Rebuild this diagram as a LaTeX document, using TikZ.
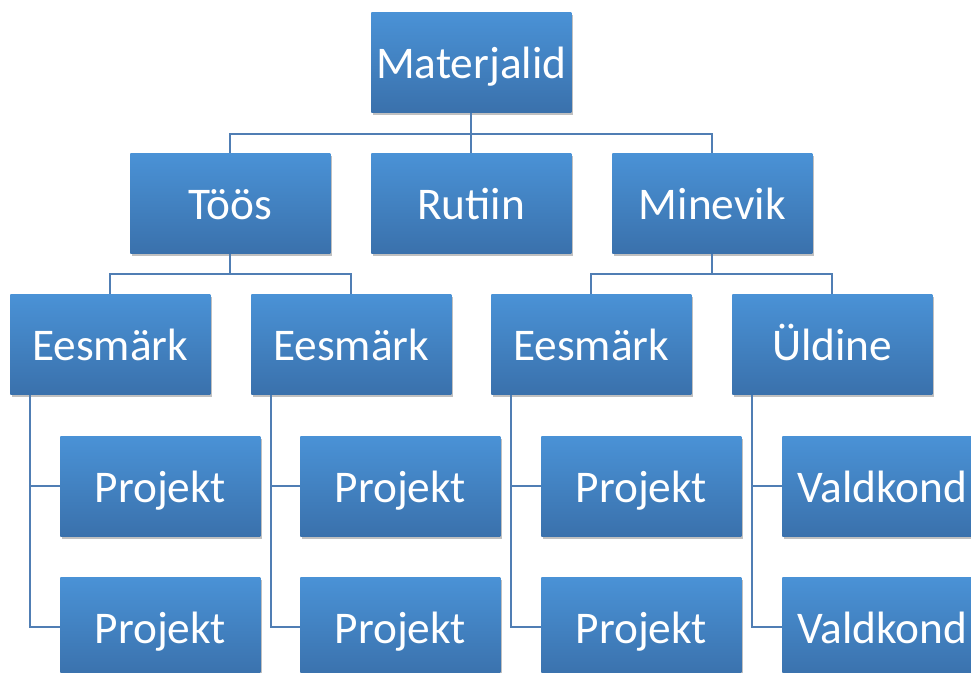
\documentclass[tikz,border=0pt]{standalone}
\usepackage{fontspec}
\setmainfont{Carlito}
\usetikzlibrary{shadows}
\definecolor{boxtop}{RGB}{74,146,214}
\definecolor{boxbot}{RGB}{58,113,172}
\definecolor{linec}{RGB}{80,126,180}
\tikzset{
  orgbox/.style={anchor=north west, minimum width=150pt, minimum height=75pt,
    inner sep=0pt, text height=25pt, text depth=0pt,
    top color=boxtop, bottom color=boxbot, draw=none,
    text=white, font=\fontsize{34}{40}\selectfont,
    drop shadow={shadow xshift=1.5pt, shadow yshift=-2pt, opacity=0.35, fill=black!70}},
  conn/.style={draw=linec, line width=1.5pt}
}
\begin{document}
\begin{tikzpicture}[x=0.75pt,y=-0.75pt]
\fill[white] (0,0) rectangle (971,672);
\clip (0,0) rectangle (971,672);
% nodes
\node[orgbox] (root) at (371,12) {Materjalid};
\node[orgbox] (toos) at (130,153) {Töös};
\node[orgbox] (rutiin) at (371,153) {Rutiin};
\node[orgbox] (minevik) at (612,153) {Minevik};
\node[orgbox] (e1) at (10,294) {Eesmärk};
\node[orgbox] (e2) at (251,294) {Eesmärk};
\node[orgbox] (e3) at (491,294) {Eesmärk};
\node[orgbox] (yl) at (732,294) {Üldine};
\node[orgbox] (p1a) at (60,436) {Projekt};
\node[orgbox] (p1b) at (60,577) {Projekt};
\node[orgbox] (p2a) at (300,436) {Projekt};
\node[orgbox] (p2b) at (300,577) {Projekt};
\node[orgbox] (p3a) at (541,436) {Projekt};
\node[orgbox] (p3b) at (541,577) {Projekt};
\node[orgbox] (v1) at (782,436) {Valdkond};
\node[orgbox] (v2) at (782,577) {Valdkond};
% connectors
\draw[conn] (root.south) -- ++(0,21) -| (toos.north);
\draw[conn] (root.south) -- ++(0,21) -| (minevik.north);
\draw[conn] (root.south) -- (rutiin.north);
\draw[conn] (toos.south) -- ++(0,20) -| (e1.north);
\draw[conn] (toos.south) -- ++(0,20) -| (e2.north);
\draw[conn] (minevik.south) -- ++(0,20) -| (e3.north);
\draw[conn] (minevik.south) -- ++(0,20) -| (yl.north);
\draw[conn] ([xshift=15pt]e1.south west) |- (p1a.west);
\draw[conn] ([xshift=15pt]e1.south west) |- (p1b.west);
\draw[conn] ([xshift=15pt]e2.south west) |- (p2a.west);
\draw[conn] ([xshift=15pt]e2.south west) |- (p2b.west);
\draw[conn] ([xshift=15pt]e3.south west) |- (p3a.west);
\draw[conn] ([xshift=15pt]e3.south west) |- (p3b.west);
\draw[conn] ([xshift=15pt]yl.south west) |- (v1.west);
\draw[conn] ([xshift=15pt]yl.south west) |- (v2.west);
\end{tikzpicture}
\end{document}
